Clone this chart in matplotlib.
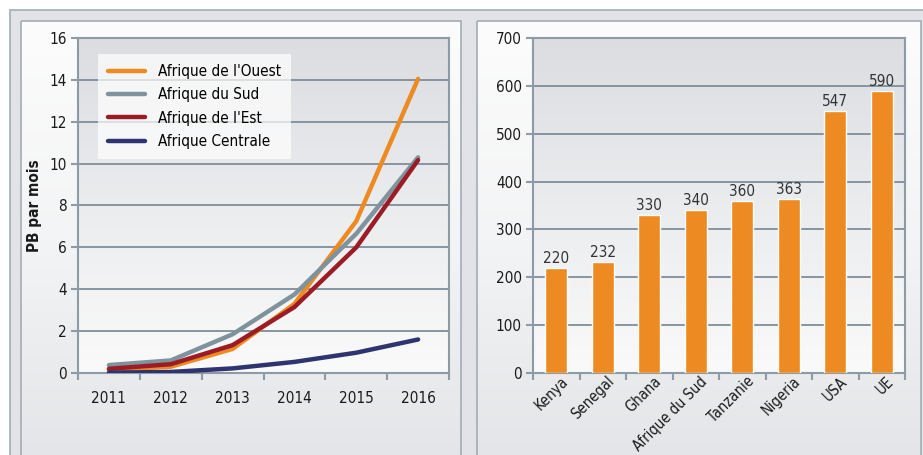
import numpy as np
import matplotlib
matplotlib.use("Agg")
import matplotlib.pyplot as plt
import matplotlib.transforms as mtransforms
from matplotlib.colors import LinearSegmentedColormap
from matplotlib.patches import Rectangle

plt.rcParams['font.family'] = ['DejaVu Sans']
plt.rcParams['font.stretch'] = 'condensed'

years = ["2011", "2012", "2013", "2014", "2015", "2016"]
ouest = [0.15, 0.3, 1.15, 3.3, 7.25, 14.05]
sud = [0.38, 0.6, 1.85, 3.75, 6.65, 10.3]
est = [0.2, 0.42, 1.33, 3.15, 6.0, 10.17]
centrale = [0.02, 0.05, 0.22, 0.53, 0.97, 1.6]
series_names = ["Afrique de l'Ouest", "Afrique du Sud", "Afrique de l'Est", "Afrique Centrale"]

countries = ["Kenya", "Senegal", "Ghana", "Afrique du Sud", "Tanzanie", "Nigeria", "USA", "UE"]
bar_values = [220, 232, 330, 340, 360, 363, 547, 590]

ORANGE = "#ee8a22"
GREY = "#7f939e"
RED = "#9b1c24"
NAVY = "#2e3470"
GRID = "#7d8e9b"
SPINE = "#8c9ba6"
TXT = "#1a1a1a"
FS = 11

W, H = 923, 455
fig = plt.figure(figsize=(W / 100, H / 100), dpi=100)
fig.patch.set_facecolor("white")

# background frame and panels
bg = fig.add_axes([0, 0, 1, 1], zorder=-10)
bg.set_xlim(0, W)
bg.set_ylim(H, 0)
bg.axis("off")
bg.add_patch(Rectangle((10, 10), W, H, facecolor="#e1e3e6", edgecolor="#a3adb5", lw=1.2))
panel_cmap = LinearSegmentedColormap.from_list("panel", ["#fcfcfc", "#f3f4f5", "#e4e5e8"])
grad = np.linspace(0, 1, 256).reshape(-1, 1)
for x0, x1 in [(21, 461), (477, 921)]:
    bg.imshow(grad, cmap=panel_cmap, extent=[x0, x1, H + 5, 21], aspect="auto", zorder=1)
    bg.add_patch(Rectangle((x0, 21), x1 - x0, H, facecolor="none", edgecolor="#a3adb5", lw=1.2, zorder=2))

axes_cmap = LinearSegmentedColormap.from_list("axbg", ["#dcdde1", "#ebecee", "#fafafa"])


def style_axes(ax):
    for s in ax.spines.values():
        s.set_color(SPINE)
        s.set_linewidth(1.5)
    ax.tick_params(axis="both", colors=SPINE, width=1.5, labelcolor=TXT, labelsize=FS)
    ax.tick_params(axis="y", length=5, pad=3)
    ax.set_axisbelow(True)


# left: line chart
ax1 = fig.add_axes([78 / W, (H - 373) / H, (449 - 78) / W, (373 - 38) / H])
x = np.arange(len(years))
ax1.set_xlim(-0.5, len(years) - 0.5)
ax1.set_ylim(0, 16)
ax1.imshow(grad, cmap=axes_cmap, extent=[-0.5, len(years) - 0.5, 0, 16], aspect="auto", zorder=0)
for v in range(2, 16, 2):
    ax1.axhline(v, color=GRID, lw=1.3, zorder=1)
for data, color, name in zip([ouest, sud, est, centrale], [ORANGE, GREY, RED, NAVY], series_names):
    ax1.plot(x, data, color=color, lw=3.2, solid_capstyle="round", solid_joinstyle="round", label=name, zorder=3)
ax1.set_yticks(range(0, 17, 2))
ax1.set_xticks(x)
ax1.set_xticklabels(years)
ax1.set_xticks(np.arange(-0.5, len(years), 1), minor=True)
style_axes(ax1)
ax1.tick_params(axis="x", which="major", length=0, pad=13)
ax1.tick_params(axis="x", which="minor", length=5, width=1.5, colors=SPINE)
ax1.set_ylabel("PB par mois", fontsize=FS, fontweight="bold", color=TXT, labelpad=5)
leg = ax1.legend(loc="upper left", bbox_to_anchor=(0.054, 0.952), borderaxespad=0, frameon=True, fontsize=FS,
                 handlelength=2.4, handletextpad=0.9, labelspacing=0.55, borderpad=0.65)
leg.get_frame().set_facecolor("white")
leg.get_frame().set_alpha(0.7)
leg.get_frame().set_edgecolor("none")
leg.get_frame().set_boxstyle("square", pad=0)

# right: bar chart
ax2 = fig.add_axes([533 / W, (H - 373) / H, (905 - 533) / W, (373 - 38) / H])
xb = np.arange(len(countries))
ax2.set_xlim(-0.5, len(countries) - 0.5)
ax2.set_ylim(0, 700)
ax2.imshow(grad, cmap=axes_cmap, extent=[-0.5, len(countries) - 0.5, 0, 700], aspect="auto", zorder=0)
for v in range(100, 700, 100):
    ax2.axhline(v, color=GRID, lw=1.3, zorder=1)
bars = ax2.bar(xb, bar_values, width=0.48, color=ORANGE, edgecolor="white", lw=1, zorder=3)
for b, v in zip(bars, bar_values):
    ax2.text(b.get_x() + b.get_width() / 2, v + 4, str(v), ha="center", va="bottom",
             fontsize=FS, color="#333333", zorder=4)
ax2.set_yticks(range(0, 701, 100))
ax2.set_xticks(xb)
ax2.set_xticklabels(countries, rotation=45, ha="right", rotation_mode="anchor", fontsize=10.5)
ax2.set_xticks(np.arange(-0.5, len(countries), 1), minor=True)
style_axes(ax2)
ax2.tick_params(axis="x", which="major", length=0, pad=2, labelsize=10.5)
ax2.tick_params(axis="x", which="minor", length=5, width=1.5, colors=SPINE)
shift = mtransforms.ScaledTranslation(4 / 100, 2 / 100, fig.dpi_scale_trans)
for lbl in ax2.get_xticklabels():
    lbl.set_transform(lbl.get_transform() + shift)

fig.savefig("out.png", dpi=100)
